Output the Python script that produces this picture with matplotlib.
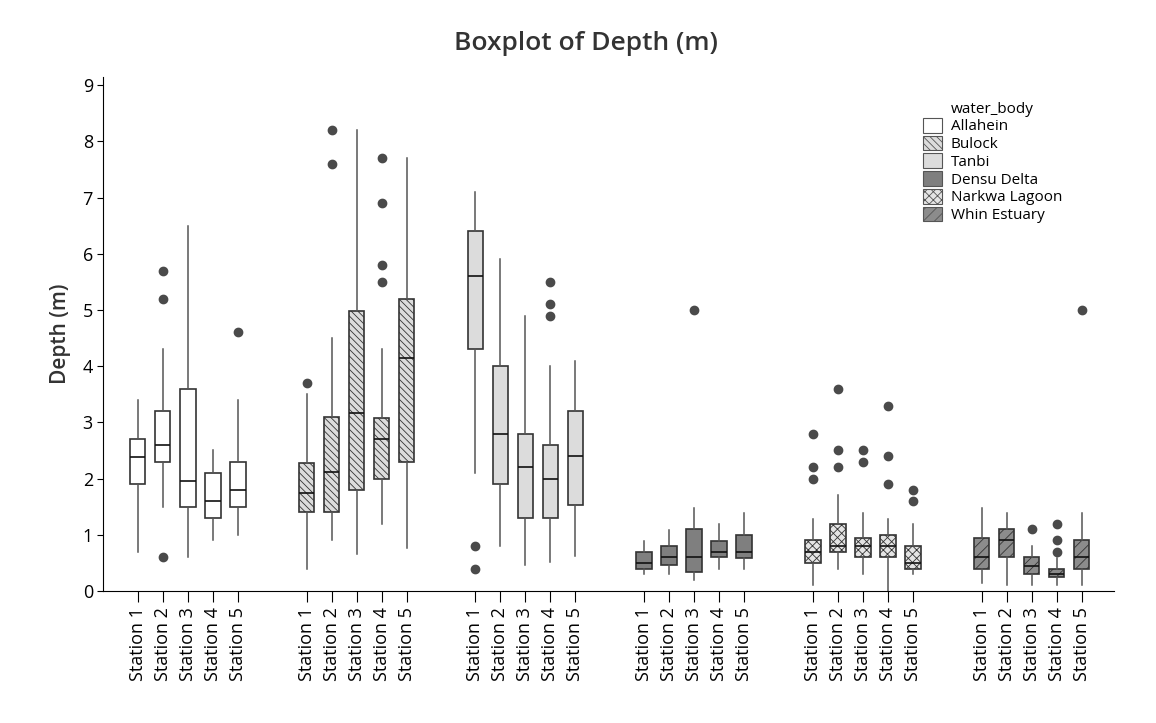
import matplotlib
matplotlib.use("Agg")
import matplotlib.pyplot as plt
from matplotlib.patches import Patch

plt.rcParams['font.family'] = ['Open Sans', 'DejaVu Sans']

"""Data read from the reference"""
bodies = ['Allahein', 'Bulock', 'Tanbi', 'Densu Delta', 'Narkwa Lagoon', 'Whin Estuary']
stations = ['Station 1', 'Station 2', 'Station 3', 'Station 4', 'Station 5']

whislo = [[0.70, 1.50, 0.60, 0.90, 1.00],
          [0.40, 0.90, 0.66, 1.20, 0.77],
          [2.10, 0.80, 0.47, 0.52, 0.62],
          [0.30, 0.30, 0.20, 0.40, 0.40],
          [0.10, 0.40, 0.30, 0.00, 0.30],
          [0.15, 0.10, 0.10, 0.10, 0.10]]
q1 = [[1.90, 2.30, 1.50, 1.30, 1.50],
      [1.40, 1.40, 1.80, 2.00, 2.30],
      [4.30, 1.90, 1.30, 1.30, 1.53],
      [0.40, 0.46, 0.34, 0.60, 0.58],
      [0.50, 0.70, 0.60, 0.60, 0.40],
      [0.40, 0.60, 0.30, 0.25, 0.40]]
med = [[2.38, 2.60, 1.95, 1.60, 1.80],
       [1.75, 2.11, 3.16, 2.70, 4.15],
       [5.60, 2.80, 2.20, 2.00, 2.40],
       [0.50, 0.60, 0.60, 0.70, 0.70],
       [0.70, 0.80, 0.80, 0.80, 0.50],
       [0.60, 0.90, 0.45, 0.30, 0.60]]
q3 = [[2.70, 3.20, 3.60, 2.10, 2.30],
      [2.28, 3.10, 4.98, 3.08, 5.20],
      [6.40, 4.00, 2.80, 2.60, 3.21],
      [0.69, 0.80, 1.10, 0.89, 1.00],
      [0.90, 1.20, 0.94, 1.00, 0.80],
      [0.95, 1.10, 0.60, 0.40, 0.90]]
whishi = [[3.40, 4.30, 6.50, 2.50, 3.40],
          [3.50, 4.50, 8.20, 4.30, 7.70],
          [7.10, 5.90, 4.90, 4.00, 4.10],
          [0.89, 1.09, 1.48, 1.19, 1.39],
          [1.28, 1.70, 1.39, 1.28, 1.20],
          [1.48, 1.39, 0.80, 0.59, 1.39]]
fliers = [[[], [5.7, 5.2, 0.6], [], [], [4.6]],
          [[3.7], [8.2, 7.6], [], [7.7, 6.9, 5.8, 5.5], []],
          [[0.8, 0.4], [], [], [5.5, 5.1, 4.9], []],
          [[], [], [5.0], [], []],
          [[2.8, 2.2, 2.0], [3.6, 2.5, 2.2], [2.5, 2.3], [3.3, 2.4, 1.9], [1.8, 1.6]],
          [[], [], [1.1], [1.2, 0.9, 0.7], [5.0]]]

fills = ['#ffffff', '#dcdcdc', '#dcdcdc', '#7f7f7f', '#e4e4e4', '#8c8c8c']
hatches = [None, '\\\\\\\\\\', None, None, 'xxxx', '///']

"""Plot"""
fig = plt.figure(figsize=(11.56, 7.23), dpi=100)
ax = fig.add_axes([0.0894, 0.1826, 0.8743, 0.7112])

plt.rcParams['hatch.linewidth'] = 0.6
gap = 6.75
ticks, labels = [], []
for g in range(len(bodies)):
    stats = []
    pos = []
    for s in range(len(stations)):
        stats.append({'med': med[g][s], 'q1': q1[g][s], 'q3': q3[g][s],
                      'whislo': whislo[g][s], 'whishi': whishi[g][s],
                      'fliers': fliers[g][s]})
        pos.append(g * gap + s)
    bp = ax.bxp(stats, positions=pos, widths=0.62, patch_artist=True,
                showcaps=False, manage_ticks=False,
                boxprops=dict(facecolor=fills[g], edgecolor='#333333', linewidth=1.2),
                medianprops=dict(color='#111111', linewidth=1.2),
                whiskerprops=dict(color='#555555', linewidth=1.1),
                flierprops=dict(marker='o', markerfacecolor='#4a4a4a',
                                markeredgecolor='#4a4a4a', markersize=6))
    for b in bp['boxes']:
        if hatches[g]:
            b.set_hatch(hatches[g])
    ticks += pos
    labels += stations

ax.set_xticks(ticks)
ax.set_xticklabels(labels, rotation=90, fontsize=13)
ax.set_xlim(-1.376, 39.05)
ax.set_ylim(0, 9.15)
ax.set_yticks(range(10))
ax.tick_params(axis='y', labelsize=13, length=4)
ax.tick_params(axis='x', length=8)
ax.spines['top'].set_visible(False)
ax.spines['right'].set_visible(False)
ax.set_ylabel('Depth (m)', fontsize=15, fontweight='semibold', color='#333333', labelpad=8)

fig.text(0.507, 0.940, 'Boxplot of Depth (m)', ha='center', va='center',
         fontsize=19, fontweight='semibold', color='#333333')

handles = [Patch(facecolor='none', edgecolor='none', label='water_body')]
for g in range(len(bodies)):
    handles.append(Patch(facecolor=fills[g], edgecolor='#555555', linewidth=0.8,
                         hatch=hatches[g], label=bodies[g]))
fig.legend(handles=handles, loc='upper left', bbox_to_anchor=(0.792, 0.872),
           frameon=False, fontsize=11, handlelength=1.2, handleheight=1.1,
           handletextpad=0.6, labelspacing=0.08, borderpad=0)

fig.savefig('out.png', dpi=100)
